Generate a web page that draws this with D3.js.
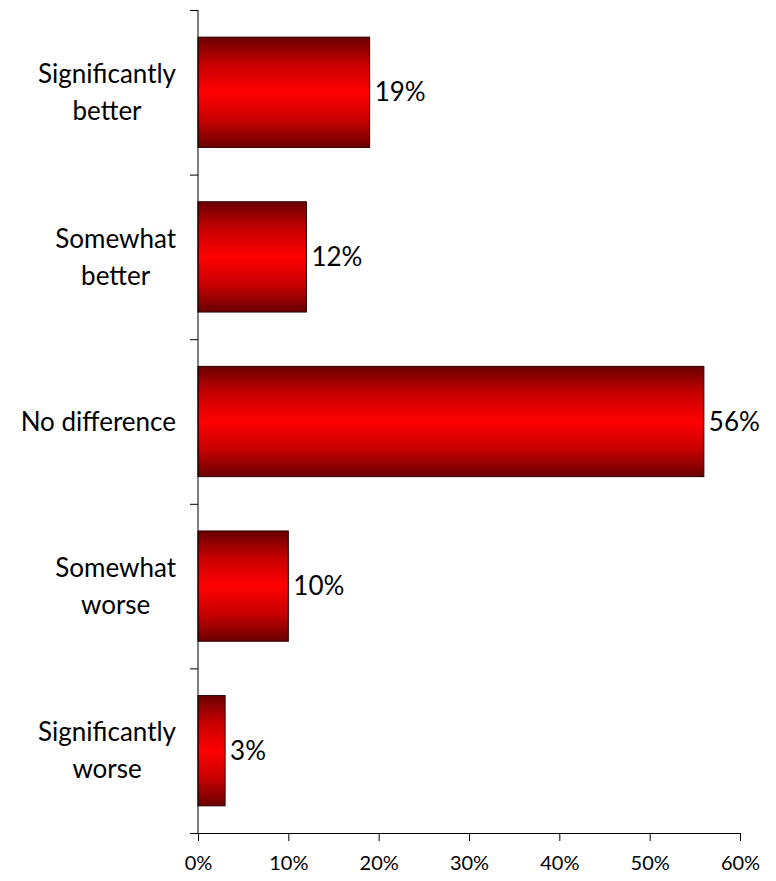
<!DOCTYPE html>
<html>
<head>
<meta charset="utf-8">
<script src="https://cdn.jsdelivr.net/npm/d3@7"></script>
<style>
  body { margin: 0; background: #fff; }
  text { font-family: Lato, "Open Sans", sans-serif; fill: #000; }
</style>
</head>
<body>
<div class="canvas"></div>
<script>
const width = 776, height = 881

const categories = ['Significantly better', 'Somewhat better', 'No difference', 'Somewhat worse', 'Significantly worse']
const categoryLines = [['Significantly', 'better'], ['Somewhat', 'better'], ['No difference'], ['Somewhat', 'worse'], ['Significantly', 'worse']]
const values = [19, 12, 56, 10, 3]
const xTicks = [0, 10, 20, 30, 40, 50, 60]

const svg = d3.select('.canvas').append('svg').attr('width', width).attr('height', height)

let [mt, mr, mb, ml] = [10, 36, 48, 198]
const graphWidth = width - ml - mr
const graphHeight = height - mt - mb

const defs = svg.append('defs')
const grad = defs.append('linearGradient')
    .attr('id', 'barGrad')
    .attr('x1', 0).attr('y1', 0).attr('x2', 0).attr('y2', 1)
grad.append('stop').attr('offset', '0%').attr('stop-color', '#6a0000')
grad.append('stop').attr('offset', '25%').attr('stop-color', '#c80000')
grad.append('stop').attr('offset', '50%').attr('stop-color', '#ff0000')
grad.append('stop').attr('offset', '75%').attr('stop-color', '#c80000')
grad.append('stop').attr('offset', '100%').attr('stop-color', '#6a0000')

const graph = svg.append('g').attr('transform', `translate(${ml}, ${mt})`)

const x = d3.scaleLinear().domain([0, 60]).range([0, graphWidth])
const y = d3.scaleBand().domain(categories).range([0, graphHeight]).paddingInner(0.33).paddingOuter(0.165)

// category tick marks sit on band boundaries
const yBound = d3.scaleLinear().domain([0, categories.length]).range([0, graphHeight])

graph.selectAll('rect.bar')
    .data(values)
    .enter()
    .append('rect')
    .attr('class', 'bar')
    .attr('x', 0)
    .attr('y', (d, i) => y(categories[i]))
    .attr('width', d => x(d))
    .attr('height', y.bandwidth())
    .attr('fill', 'url(#barGrad)')
    .attr('stroke', '#2a0000')
    .attr('stroke-width', 1)

graph.selectAll('text.val')
    .data(values)
    .enter()
    .append('text')
    .attr('class', 'val')
    .attr('x', d => x(d) + 5)
    .attr('y', (d, i) => y(categories[i]) + y.bandwidth() / 2)
    .attr('dy', '0.35em')
    .style('font-size', '26px')
    .text(d => d + '%')

// y axis
const yAxisG = graph.append('g')
yAxisG.append('line')
    .attr('x1', 0).attr('x2', 0)
    .attr('y1', 0).attr('y2', graphHeight)
    .attr('stroke', '#000')
yAxisG.selectAll('line.tick')
    .data(d3.range(categories.length + 1))
    .enter()
    .append('line')
    .attr('class', 'tick')
    .attr('x1', -8).attr('x2', 0)
    .attr('y1', d => yBound(d) + 0.5).attr('y2', d => yBound(d) + 0.5)
    .attr('stroke', '#000')

// category labels: lines centred on each other, widest line right-aligned
const labelRight = -22
categoryLines.forEach((lines, i) => {
    const g = yAxisG.append('g')
    const lineH = 37
    const cy = y(categories[i]) + y.bandwidth() / 2
    const texts = lines.map((t, j) => g.append('text')
        .style('font-size', '26px')
        .attr('y', cy + (j - (lines.length - 1) / 2) * lineH)
        .attr('dy', '0.35em')
        .attr('text-anchor', 'middle')
        .text(t))
    const maxW = d3.max(texts, t => t.node().getComputedTextLength())
    texts.forEach(t => t.attr('x', labelRight - maxW / 2))
})

// x axis
const xAxisG = graph.append('g').attr('transform', `translate(0, ${graphHeight})`)
const xAxis = d3.axisBottom(x).tickValues(xTicks).tickFormat(d => d + '%').tickSize(8).tickSizeOuter(0)
xAxisG.call(xAxis)
xAxisG.select('.domain').attr('stroke', '#000')
xAxisG.selectAll('.tick line').attr('stroke', '#000')
xAxisG.selectAll('text')
    .style('font-size', '20px')
    .attr('font-family', null)
    .attr('y', 23)
</script>
</body>
</html>
